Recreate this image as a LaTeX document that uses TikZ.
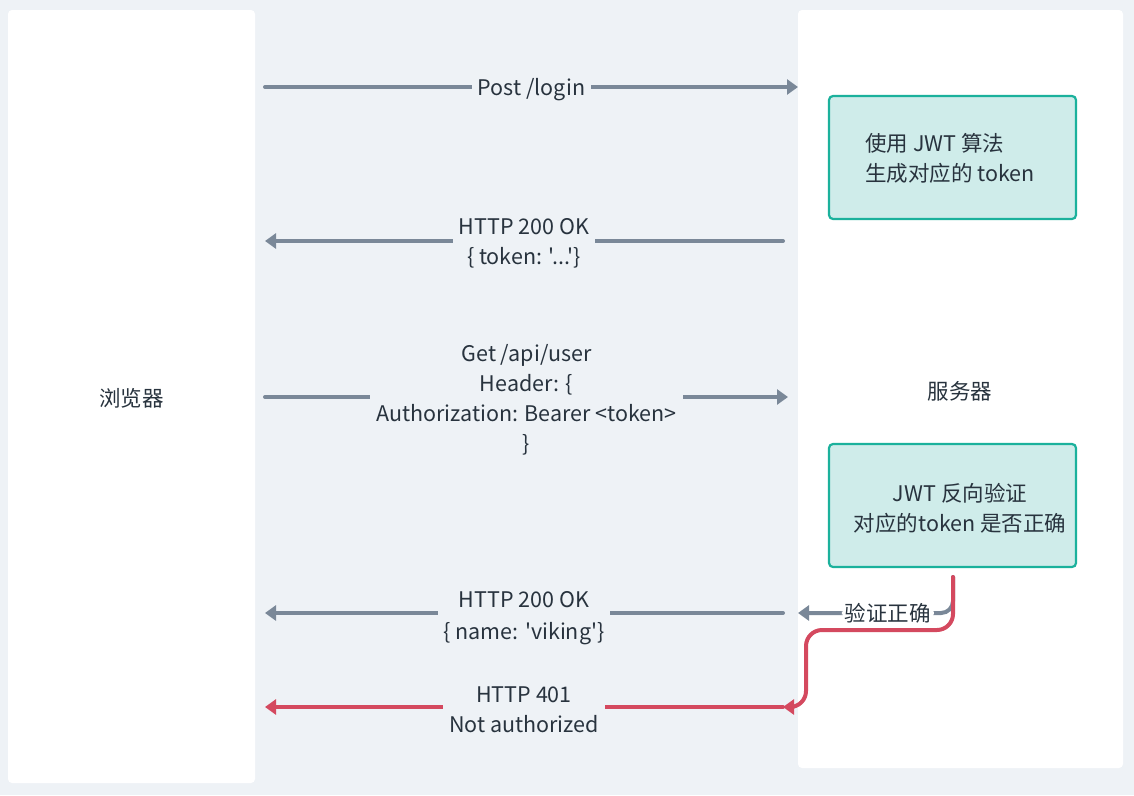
\documentclass[tikz,border=0pt]{standalone}
\usepackage{fontspec}
\newfontfamily\cjkfont{Noto Sans CJK SC}
\usetikzlibrary{arrows.meta}
\definecolor{bgc}{HTML}{EEF2F6}
\definecolor{arrgray}{HTML}{7A8898}
\definecolor{arrred}{HTML}{D4495F}
\definecolor{tealb}{HTML}{1BB19C}
\definecolor{tealf}{HTML}{CFECEA}
\definecolor{txt}{HTML}{28333E}
\tikzset{
  panel/.style={fill=white, draw=none, rounded corners=4pt, inner sep=0pt},
  procbox/.style={fill=tealf, draw=tealb, line width=2.2pt, rounded corners=4pt, inner sep=0pt},
  msg/.style={line width=4pt, line cap=round, color=arrgray, -{Triangle[length=11pt,width=15pt]}},
  errmsg/.style={msg, color=arrred},
  lbl/.style={fill=bgc, text=txt, font=\cjkfont\fontsize{21.5}{30}\selectfont, align=center, inner xsep=6pt, inner ysep=0pt, yshift=-2.5pt},
  plain/.style={text=txt, font=\cjkfont\fontsize{21.5}{30}\selectfont, align=center, inner sep=0pt},
}
\begin{document}
\begin{tikzpicture}[x=1pt,y=-1pt]
\fill[bgc] (0,0) rectangle (1134,795);
\useasboundingbox (0,0) rectangle (1134,795);
% panels
\node[panel, minimum width=247pt, minimum height=773pt] (browser) at (131.5,396.5) {};
\node[panel, minimum width=325pt, minimum height=758pt] (server) at (960.5,389) {};
\node[plain] (browserlbl) at (131.5,398) {浏览器};
\node[plain] (serverlbl) at (960,391) {服务器};
% process boxes
\node[procbox, minimum width=247pt, minimum height=123pt] (gen) at (952.5,157.5) {};
\node[plain, align=left] (gentxt) at (950,158.5) {使用 JWT 算法\\生成对应的 token};
\node[procbox, minimum width=247pt, minimum height=123pt] (verify) at (952.5,505.5) {};
\node[plain] (verifytxt) at (960,508) {JWT 反向验证\\对应的token 是否正确};
% coordinates
\coordinate (b1) at (265,87);  \coordinate (s1) at (798,87);
\coordinate (s2) at (783,241); \coordinate (b2) at (265,241);
\coordinate (b3) at (265,397); \coordinate (s3) at (788,397);
\coordinate (s4) at (783,613); \coordinate (b4) at (265,613);
\coordinate (s5) at (783,707); \coordinate (b5) at (265,707);
\coordinate (vstart) at (953,577);
\coordinate (okend) at (798,613);
% messages
\draw[msg] (b1) -- node[lbl] (m1) {Post /login} (s1);
\draw[msg] (s2) -- node[lbl] (m2) {HTTP 200 OK\\\{ token: '...'\}} (b2);
\draw[msg] (b3) -- node[lbl] (m3) {Get /api/user\\Header: \{\\Authorization: Bearer <token>\\\}} (s3);
\draw[msg] (s4) -- node[lbl, font=\cjkfont\fontsize{21.5}{32}\selectfont, yshift=-3pt] (m4) {HTTP 200 OK\\\{ name: 'viking'\}} (b4);
\draw[errmsg] (s5) -- node[lbl] (m5) {HTTP 401\\Not authorized} (b5);
% verification branches
\draw[msg, rounded corners=12pt] (vstart) -- (953,613) -- node[pos=0.42, fill=white, text=txt, font=\cjkfont\fontsize{21.5}{30}\selectfont, inner xsep=3pt, inner ysep=0pt] (okl) {验证正确} (okend);
\draw[errmsg, rounded corners=16pt] (vstart) -- (953,630) -- (806,630) -- (806,707) -- (s5);
\end{tikzpicture}
\end{document}
